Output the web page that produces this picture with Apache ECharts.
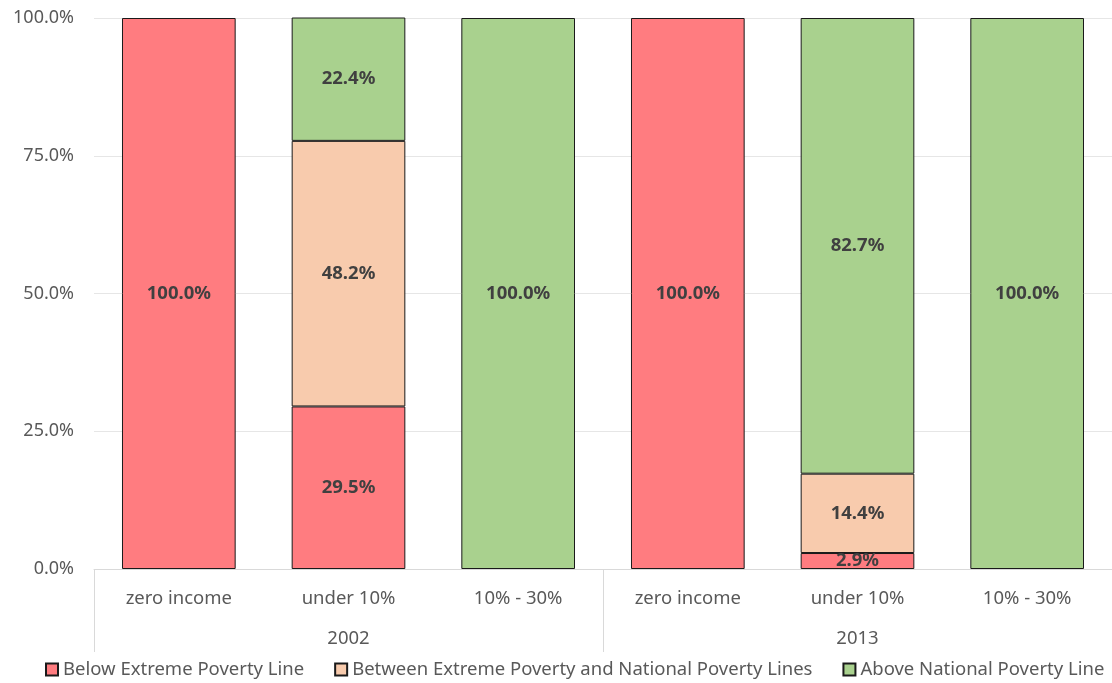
<!DOCTYPE html>
<html>
<head>
<meta charset="utf-8">
<script src="https://cdn.jsdelivr.net/npm/echarts@6/dist/echarts.min.js"></script>
<style>
  html, body { margin: 0; padding: 0; background: #fff; }
  #chart { width: 1112px; height: 683px; }
</style>
</head>
<body>
<div id="chart"></div>
<script>
// Income-share groups within each survey year
const categories = ['zero income', 'under 10%', '10% - 30%', 'zero income', 'under 10%', '10% - 30%'];
const years = ['2002', '2013'];
const yTicks = [0, 25, 50, 75, 100];

// Share of households (%) by poverty status
const belowExtreme = [100, 29.5, 0, 100, 2.9, 0];
const betweenLines = [0, 48.2, 0, 0, 14.4, 0];
const aboveNational = [0, 22.4, 100, 0, 82.7, 100];

const seriesDefs = [
  { name: 'Below Extreme Poverty Line', data: belowExtreme, color: '#FF7C80' },
  { name: 'Between Extreme Poverty and National Poverty Lines', data: betweenLines, color: '#F8CBAD' },
  { name: 'Above National Poverty Line', data: aboveNational, color: '#A9D18E' }
];

const FONT = 'Noto Sans';
const chart = echarts.init(document.getElementById('chart'));

chart.setOption({
  animation: false,
  textStyle: { fontFamily: FONT },
  grid: { left: 94, right: 0, top: 18, bottom: 114, containLabel: false },
  legend: {
    bottom: -1,
    left: 40,
    itemWidth: 12,
    itemHeight: 12,
    itemGap: 30,
    icon: 'rect',
    textStyle: { color: '#595959', fontSize: 18.5, fontFamily: FONT },
    data: seriesDefs.map(s => s.name)
  },
  xAxis: [
    {
      type: 'category',
      data: categories,
      position: 'bottom',
      axisLine: { show: true, lineStyle: { color: '#d9d9d9', width: 1 } },
      axisTick: { show: false },
      axisLabel: { color: '#595959', fontSize: 18.5, margin: 20, interval: 0 }
    },
    {
      type: 'category',
      data: years,
      position: 'bottom',
      offset: 0,
      axisLine: { show: false },
      axisTick: { show: true, length: 83, interval: 0, lineStyle: { color: '#d9d9d9', width: 1 } },
      axisLabel: { color: '#595959', fontSize: 18.5, margin: 60, interval: 0 }
    }
  ],
  yAxis: {
    type: 'value',
    min: yTicks[0],
    max: yTicks[yTicks.length - 1],
    interval: yTicks[1] - yTicks[0],
    axisLine: { show: false },
    axisTick: { show: false },
    splitLine: { lineStyle: { color: '#e6e6e6', width: 1 } },
    axisLabel: {
      color: '#595959',
      fontSize: 18,
      margin: 20,
      formatter: v => v.toFixed(1) + '%'
    }
  },
  series: seriesDefs.map(s => ({
    name: s.name,
    type: 'bar',
    stack: 'share',
    xAxisIndex: 0,
    barWidth: '67%',
    data: s.data.map(v => (v === 0 ? '-' : v)),
    itemStyle: { color: s.color, borderColor: '#1a1a1a', borderWidth: 1 },
    label: {
      show: true,
      position: 'inside',
      color: '#404040',
      fontWeight: 'bold',
      fontSize: 18.5,
      fontFamily: FONT,
      formatter: p => Number(p.value).toFixed(1) + '%'
    }
  }))
});
</script>
</body>
</html>
